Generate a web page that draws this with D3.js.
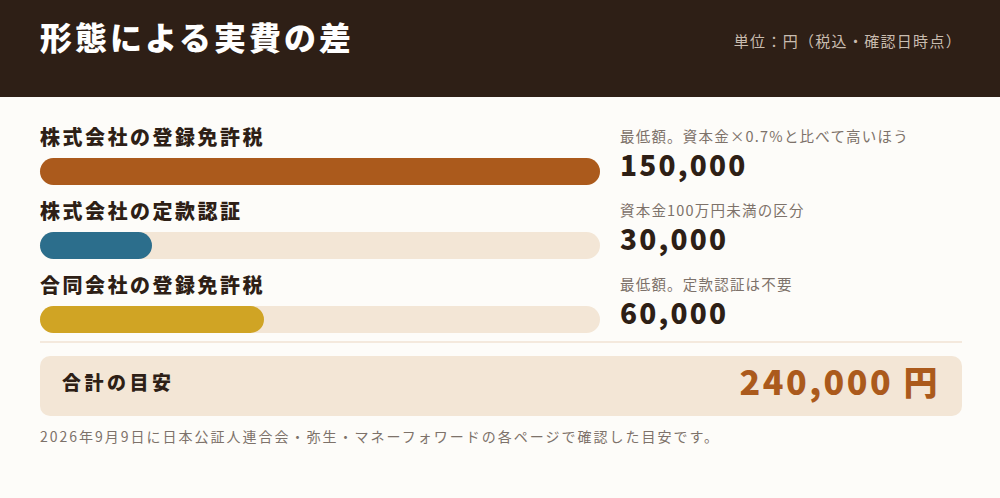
<!DOCTYPE html>
<html><head><meta charset="utf-8">
<script src="https://cdn.jsdelivr.net/npm/d3@7"></script>
<style>body{margin:0;background:#fdfcf9;font-family:"Noto Sans CJK JP","Noto Sans",sans-serif}</style>
</head><body><svg id="c" width="1000" height="498"></svg>
<script>
var labels = ["株式会社の登録免許税", "株式会社の定款認証", "合同会社の登録免許税"];
var values = [150000, 30000, 60000];
var notes = ["最低額。資本金×0.7%と比べて高いほう", "資本金100万円未満の区分", "最低額。定款認証は不要"];
var colors = ["#ab5a1c", "#2c6e8c", "#d0a424"];
var total = 240000;

var fmt = d3.format(",");
var svg = d3.select("#c");
svg.append("rect").attr("width", 1000).attr("height", 498).attr("fill", "#fdfcf9");
svg.append("rect").attr("width", 1000).attr("height", 97).attr("fill", "#2e1f16");
svg.append("text").attr("x", 40).attr("y", 50).attr("fill", "#fff")
  .style("font-size", "32px").style("font-weight", 900).style("letter-spacing", "3px").text("形態による実費の差");
svg.append("text").attr("x", 962).attr("y", 47).attr("text-anchor", "end").attr("fill", "#c9bcb0")
  .style("font-size", "15px").style("letter-spacing", "1.3px").text("単位：円（税込・確認日時点）");

var x = d3.scaleLinear().domain([0, 150000]).range([0, 560]);
var rows = svg.selectAll("g.row").data(values).join("g")
  .attr("transform", function(d, i) { return "translate(0," + (i * 74) + ")"; });
rows.append("text").attr("x", 40).attr("y", 145).attr("fill", "#2e1f16")
  .style("font-size", "20px").style("font-weight", 900).style("letter-spacing", "2.5px")
  .text(function(d, i) { return labels[i]; });
rows.append("rect").attr("x", 40).attr("y", 158).attr("height", 27).attr("width", x(150000))
  .attr("rx", 13.5).attr("fill", "#f3e6d6");
rows.append("rect").attr("x", 40).attr("y", 158).attr("height", 27).attr("width", function(d) { return x(d); })
  .attr("rx", 13.5).attr("fill", function(d, i) { return colors[i]; });
rows.append("text").attr("x", 620).attr("y", 142).attr("fill", "#7d726a")
  .style("font-size", "14.5px").style("letter-spacing", "1.2px").text(function(d, i) { return notes[i]; });
rows.append("text").attr("x", 620).attr("y", 176).attr("fill", "#2e1f16")
  .style("font-size", "28px").style("font-weight", 900).style("letter-spacing", "2.2px")
  .text(function(d) { return fmt(d); });

svg.append("line").attr("x1", 40).attr("x2", 962).attr("y1", 342).attr("y2", 342)
  .attr("stroke", "#f0e3d3").attr("stroke-width", 1.5);
svg.append("rect").attr("x", 40).attr("y", 356).attr("width", 922).attr("height", 60)
  .attr("rx", 10).attr("fill", "#f3e6d6");
svg.append("text").attr("x", 62).attr("y", 390).attr("fill", "#2e1f16")
  .style("font-size", "19px").style("font-weight", 900).style("letter-spacing", "3.5px").text("合計の目安");
svg.append("text").attr("x", 940).attr("y", 395).attr("text-anchor", "end").attr("fill", "#ab5a1c")
  .style("font-size", "34px").style("font-weight", 900).style("letter-spacing", "2.5px")
  .text(fmt(total) + " 円");
svg.append("text").attr("x", 40).attr("y", 442).attr("fill", "#7d726a")
  .style("font-size", "14px").style("letter-spacing", "2px")
  .text("2026年9月9日に日本公証人連合会・弥生・マネーフォワードの各ページで確認した目安です。");
</script></body></html>
